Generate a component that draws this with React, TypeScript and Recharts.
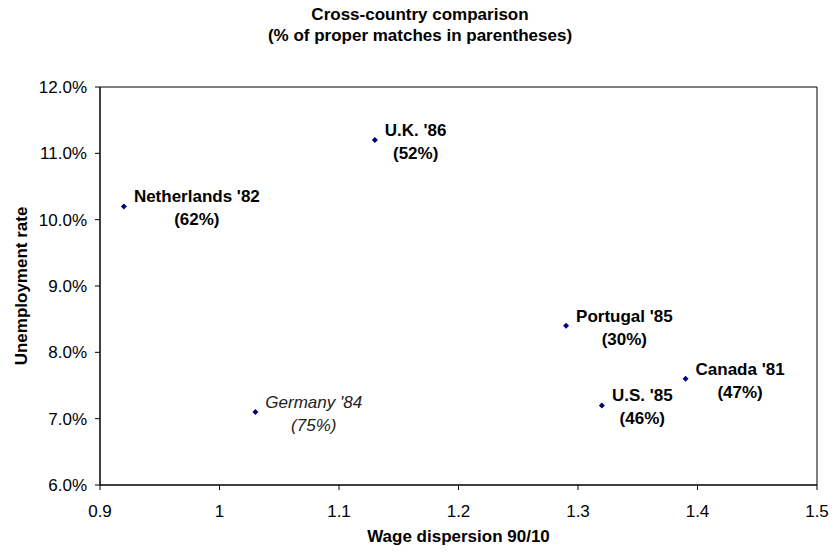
import React from "react";
import { ScatterChart, Scatter, XAxis, YAxis, Label, ReferenceArea } from "recharts";

const countries = ["Netherlands '82", "U.K. '86", "Germany '84", "Portugal '85", "U.S. '85", "Canada '81"];
const wageDispersion = [0.92, 1.13, 1.03, 1.29, 1.32, 1.39];
const unemployment = [10.2, 11.2, 7.1, 8.4, 7.2, 7.6];
const matchShare = ["62%", "52%", "75%", "30%", "46%", "47%"];
const italicFlags = [false, false, true, false, false, false];
const xTicks = [0.9, 1, 1.1, 1.2, 1.3, 1.4, 1.5];
const yTicks = [6, 7, 8, 9, 10, 11, 12];

const data = countries.map((name, i) => ({
  name,
  x: wageDispersion[i],
  y: unemployment[i],
  share: matchShare[i],
  italic: italicFlags[i],
}));

const FONT = "'Liberation Sans', Arial, sans-serif";
const FS = 17;

let ctx: CanvasRenderingContext2D | null = null;
function measure(text: string, font: string): number {
  if (!ctx) {
    const c = document.createElement("canvas");
    ctx = c.getContext("2d");
  }
  if (!ctx) return text.length * 9;
  ctx.font = font;
  return ctx.measureText(text).width;
}

const PointShape = (props: any) => {
  const { cx, cy, payload } = props;
  if (cx == null || cy == null) return null;
  const italic = payload.italic;
  const font = `${italic ? "italic" : "bold"} ${FS}px 'Liberation Sans'`;
  const w = measure(payload.name, font);
  const center = cx + 10 + w / 2;
  const s = 3;
  return (
    <g>
      <path d={`M${cx},${cy - s}L${cx + s},${cy}L${cx},${cy + s}L${cx - s},${cy}Z`} fill="#000080" />
      <text
        x={center}
        textAnchor="middle"
        fontFamily={FONT}
        fontSize={FS}
        fontWeight={italic ? "normal" : "bold"}
        fontStyle={italic ? "italic" : "normal"}
        fill={italic ? "#222" : "#000"}
      >
        <tspan x={center} y={cy - 4}>{payload.name}</tspan>
        <tspan x={center} y={cy + 19}>{`(${payload.share})`}</tspan>
      </text>
    </g>
  );
};

export default function App() {
  return (
    <div style={{ position: "relative", width: 832, height: 552, background: "#fff", fontFamily: FONT }}>
      <style>{`body{margin:0;}`}</style>
      <div
        style={{
          position: "absolute",
          left: 4,
          top: 4,
          width: 832,
          textAlign: "center",
          fontWeight: "bold",
          fontSize: FS,
          lineHeight: "21px",
        }}
      >
        <div>Cross-country comparison</div>
        <div>(% of proper matches in parentheses)</div>
      </div>
      <ScatterChart width={832} height={552} margin={{ top: 87, right: 15, bottom: 7, left: 5 }}>
        <XAxis
          type="number"
          dataKey="x"
          domain={[0.9, 1.5]}
          ticks={xTicks}
          tickFormatter={(v: number) => String(v)}
          height={60}
          tickSize={5}
          tickMargin={15}
          stroke="#000"
          tick={{ fill: "#000", fontSize: FS, fontFamily: FONT }}
          allowDataOverflow
        >
          <Label
            content={(p: any) => {
              const vb = p.viewBox || {};
              return (
                <text
                  x={vb.x + vb.width / 2}
                  y={542}
                  textAnchor="middle"
                  fontFamily={FONT}
                  fontSize={FS}
                  fontWeight="bold"
                  fill="#000"
                >
                  Wage dispersion 90/10
                </text>
              );
            }}
          />
        </XAxis>
        <YAxis
          type="number"
          dataKey="y"
          domain={[6, 12]}
          ticks={yTicks}
          tickFormatter={(v: number) => `${v.toFixed(1)}%`}
          width={95}
          tickSize={5}
          tickMargin={8}
          stroke="#000"
          tick={{ fill: "#000", fontSize: FS, fontFamily: FONT }}
          allowDataOverflow
        >
          <Label
            content={(p: any) => {
              const vb = p.viewBox || {};
              const cy = vb.y + vb.height / 2;
              return (
                <text
                  x={27}
                  y={cy}
                  transform={`rotate(-90, 27, ${cy})`}
                  textAnchor="middle"
                  fontFamily={FONT}
                  fontSize={FS}
                  fontWeight="bold"
                  fill="#000"
                >
                  Unemployment rate
                </text>
              );
            }}
          />
        </YAxis>
        <ReferenceArea x1={0.9} x2={1.5} y1={6} y2={12} fill="none" stroke="#000" strokeWidth={1} ifOverflow="visible" />
        <Scatter data={data} shape={PointShape} isAnimationActive={false} />
      </ScatterChart>
    </div>
  );
}
